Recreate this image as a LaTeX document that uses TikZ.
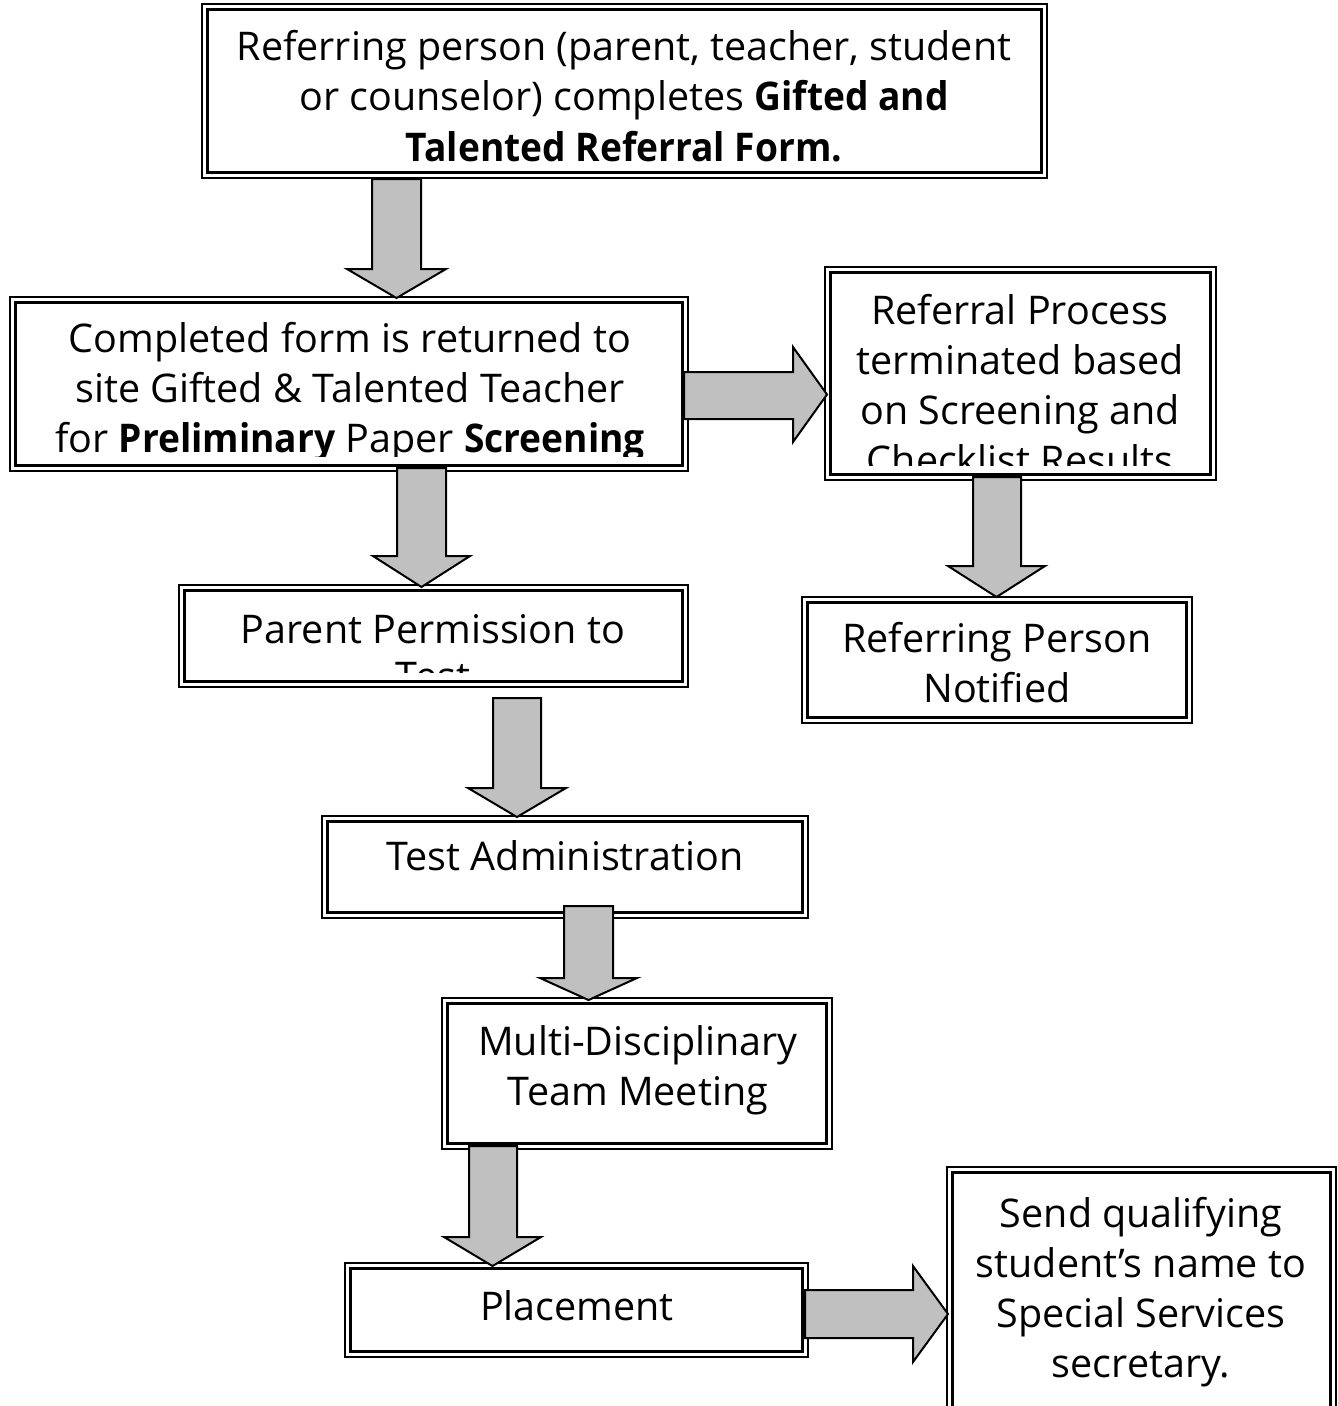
\documentclass[tikz,border=0pt]{standalone}
\usepackage{fontspec}
\setmainfont{Open Sans}[BoldFeatures={FakeStretch=0.94}]
\usetikzlibrary{fit}
\definecolor{arrowgray}{RGB}{192,192,192}
\tikzset{
  outerline/.style={line width=2pt, draw=black},
  innerline/.style={line width=3pt, draw=black},
  txt/.style={anchor=base, inner sep=0pt, font=\fontsize{39.5}{50}\selectfont},
  blockarrow/.style={fill=arrowgray, draw=black, line width=2pt, line join=miter},
  boxnode/.style={inner sep=0pt, outer sep=0pt},
}
% name, x1, y1, x2, y2
\newcommand\gbox[5]{%
  \node[boxnode, fit={(#2,#3) (#4,#5)}] (#1) {};
  \draw[outerline] (#1.north west) rectangle (#1.south east);
  \draw[innerline] ([shift={(5.5,5.5)}]#1.north west) rectangle ([shift={(-5.5,-5.5)}]#1.south east);
}
% name of box, contents
\newcommand\boxtext[2]{%
  \begin{scope}
    \clip ([shift={(12,12)}]#1.north west) rectangle ([shift={(-12,-15)}]#1.south east);
    #2
  \end{scope}
}
% shaft left, shaft right, top, head y, head left, head right, tip y
\newcommand\blockdown[7]{%
  \draw[blockarrow] (#1,#3) -- (#2,#3) -- (#2,#4) -- (#6,#4) -- ({(#5+#6)/2},#7) -- (#5,#4) -- (#1,#4) -- cycle;
}
% shaft left, head x, shaft top, shaft bottom, head top, head bottom, tip x
\newcommand\blockright[7]{%
  \draw[blockarrow] (#1,#3) -- (#2,#3) -- (#2,#5) -- (#7,{(#5+#6)/2}) -- (#2,#6) -- (#2,#4) -- (#1,#4) -- cycle;
}
\begin{document}
\begin{tikzpicture}[x=1pt, y=-1pt]
\clip (0,0) rectangle (1338,1406);
\fill[white] (0,0) rectangle (1338,1406);

% boxes
\gbox{b1}{202}{4}{1047}{178}
\gbox{b2}{10}{297}{688}{471}
\gbox{b3}{825}{267}{1216}{480}
\gbox{b4}{179}{585}{688}{687}
\gbox{b5}{802}{597}{1192}{723}
\gbox{b6}{322}{816}{808}{918}
\gbox{b7}{442}{998}{832}{1149}
\gbox{b8}{345}{1263}{808}{1357}
\gbox{b9}{947}{1167}{1336}{1440}

% texts
\boxtext{b1}{
  \node[txt] (t1a) at (624,60) {Referring person (parent, teacher, student};
  \node[txt] (t1b) at (624,110) {or counselor) completes \textbf{Gifted and}};
  \node[txt] (t1c) at (624,161) {\textbf{Talented Referral Form.}};
}
\boxtext{b2}{
  \node[txt] (t2a) at (350,352) {Completed form is returned to};
  \node[txt] (t2b) at (350,402) {site Gifted \& Talented Teacher};
  \node[txt] (t2c) at (350,452) {for \textbf{Preliminary} Paper \textbf{Screening}};
}
\boxtext{b3}{
  \node[txt] (t3a) at (1020,324) {Referral Process};
  \node[txt] (t3b) at (1020,374) {terminated based};
  \node[txt] (t3c) at (1020,424) {on Screening and};
  \node[txt] (t3d) at (1020,474) {Checklist Results};
}
\boxtext{b4}{
  \node[txt] (t4a) at (433,643) {Parent Permission to};
  \node[txt] (t4b) at (433,690) {Test};
}
\boxtext{b5}{
  \node[txt] (t5a) at (997,652) {Referring Person};
  \node[txt] (t5b) at (997,702) {Notified};
}
\boxtext{b6}{
  \node[txt] (t6a) at (565,870) {Test Administration};
}
\boxtext{b7}{
  \node[txt] (t7a) at (638,1055) {Multi-Disciplinary};
  \node[txt] (t7b) at (638,1105) {Team Meeting};
}
\boxtext{b8}{
  \node[txt] (t8a) at (577,1320) {Placement};
}
\boxtext{b9}{
  \node[txt] (t9a) at (1141,1227) {Send qualifying};
  \node[txt] (t9b) at (1141,1277) {student’s name to};
  \node[txt] (t9c) at (1141,1327) {Special Services};
  \node[txt] (t9d) at (1141,1377) {secretary.};
}

% block arrows
\blockdown{372}{421}{179}{269}{347}{446}{298}
\blockdown{397}{446}{468}{556}{373}{470}{587}
\blockdown{973}{1021}{477}{566}{948}{1045}{597}
\blockdown{493}{541}{698}{788}{468}{566}{817}
\blockdown{564}{613}{906}{978}{540}{637}{1000}
\blockdown{469}{517}{1146}{1237}{444}{541}{1266}
\blockright{684}{793}{372}{419}{347}{442}{827}
\blockright{805}{913}{1290}{1338}{1266}{1362}{948}
\end{tikzpicture}
\end{document}
